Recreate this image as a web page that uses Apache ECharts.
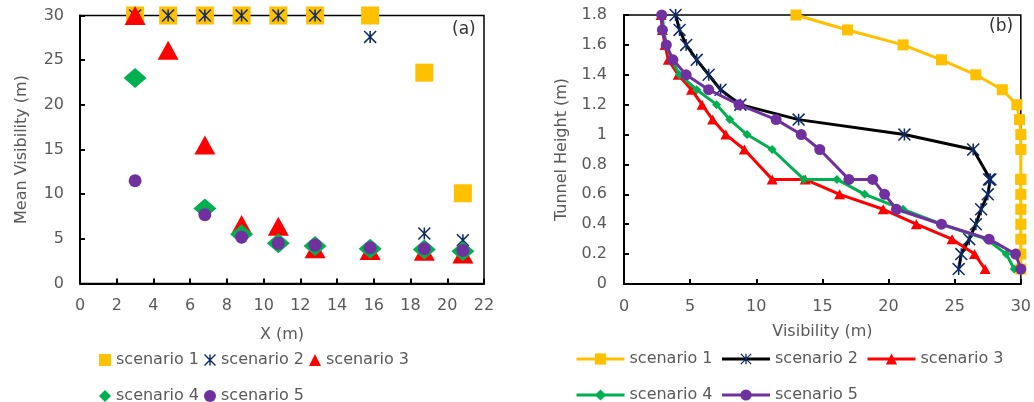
<!DOCTYPE html>
<html>
<head>
<meta charset="utf-8">
<script src="https://cdn.jsdelivr.net/npm/echarts@6/dist/echarts.min.js"></script>
<style>
html,body{margin:0;padding:0;background:#fff;}
#c{width:1034px;height:402px;}
</style>
</head>
<body>
<div id="c"></div>
<script>
// ---------- Panel (a): mean visibility vs X ----------
const xPos = [3, 4.8, 6.8, 8.8, 10.8, 12.8, 15.8, 18.75, 20.85];
const aS1 = [30, 30, 30, 30, 30, 30, 30, 23.6, 10.1];
const aS2 = [30, 30, 30, 30, 30, 30, 27.6, 5.6, 4.85];
const aS3 = [30, 26.1, 15.5, 6.6, 6.4, 3.9, 3.7, 3.6, 3.3];
const aS4 = [23, null, 8.4, 5.5, 4.5, 4.2, 3.9, 3.8, 3.6];
const aS5 = [11.5, null, 7.7, 5.2, 4.5, 4.3, 4.0, 3.9, 3.7];

// ---------- Panel (b): tunnel height vs visibility ----------
const heights = [1.8, 1.7, 1.6, 1.5, 1.4, 1.3, 1.2, 1.1, 1.0, 0.9, 0.7, 0.7, 0.6, 0.5, 0.4, 0.3, 0.2, 0.1];
const bS1 = [13.0, 16.9, 21.1, 24.0, 26.6, 28.6, 29.7, 29.9, 30, 30, 30, 30, 30, 30, 30, 30, 30, 30];
const bS2 = [3.9, 4.2, 4.7, 5.5, 6.4, 7.3, 8.8, 13.2, 21.2, 26.4, 27.7, 27.6, 27.5, 27.0, 26.6, 26.1, 25.5, 25.3];
const bS3 = [2.8, 2.9, 3.1, 3.35, 4.1, 5.1, 5.9, 6.7, 7.7, 9.1, 11.2, 13.7, 16.3, 19.6, 22.1, 24.8, 26.5, 27.3];
const bS4 = [2.9, 3.0, 3.2, 3.6, 4.2, 5.5, 7.0, 8.0, 9.3, 11.2, 13.6, 16.1, 18.2, 21.1, 24.0, 27.4, 28.9, 29.5];
const bS5 = [2.85, 2.9, 3.2, 3.7, 4.7, 6.4, 8.7, 11.5, 13.4, 14.8, 17.0, 18.8, 19.7, 20.6, 24.0, 27.6, 29.6, 30.0];

const seriesNames = ['scenario 1', 'scenario 2', 'scenario 3', 'scenario 4', 'scenario 5'];

const COL = ['#FFC000', '#0D2A66', '#FF0000', '#00B050', '#7030A0'];
const LINECOL = ['#FFC000', '#000000', '#FF0000', '#00B050', '#7030A0'];
const STAR = 'path://M-1.3,-10L1.3,-10L1.3,10L-1.3,10Z' +
  'M-9.1,-10.9L10.9,9.1L9.1,10.9L-10.9,-9.1Z' +
  'M10.9,-9.1L-9.1,10.9L-10.9,9.1L9.1,-10.9Z';

const FONT = 'DejaVu Sans';
const GREY = '#595959';

function pairsA(ys) { return xPos.map((x, i) => ys[i] == null ? null : [x, ys[i]]).filter(d => d); }
function pairsB(xs) { return xs.map((v, i) => [v, heights[i]]); }

const aSymbols = ['rect', STAR, 'triangle', 'diamond', 'circle'];
const aSizes = [18, 13, [21, 19], [23, 20], 13];
const bSymbols = ['rect', STAR, 'triangle', 'diamond', 'circle'];
const bSizes = [11, 13, [11, 10], [9, 9], 11];
const aData = [aS1, aS2, aS3, aS4, aS5];
const bData = [bS1, bS2, bS3, bS4, bS5];

function axisCommon() {
  return {
    axisLine: { show: true, onZero: false, lineStyle: { color: '#000', width: 2 } },
    axisTick: { show: true, inside: true, length: 5, lineStyle: { color: '#000', width: 2 } },
    splitLine: { show: false },
    nameTextStyle: { color: GREY, fontFamily: FONT, fontSize: 16 },
  };
}

const series = [];
for (let i = 0; i < 5; i++) {
  series.push({
    name: 'a' + (i + 1), type: 'scatter', xAxisIndex: 0, yAxisIndex: 0,
    symbol: aSymbols[i], symbolSize: aSizes[i],
    itemStyle: { color: COL[i], opacity: 1 },
    data: pairsA(aData[i]), z: 2 + i, animation: false
  });
}
for (let i = 0; i < 5; i++) {
  series.push({
    name: 'b' + (i + 1), type: 'line', xAxisIndex: 1, yAxisIndex: 1,
    symbol: bSymbols[i], symbolSize: bSizes[i], showSymbol: true,
    itemStyle: { color: COL[i], opacity: 1 },
    lineStyle: { color: LINECOL[i], width: 3 },
    data: pairsB(bData[i]), z: 2 + i, animation: false
  });
}

const legText = { color: GREY, fontFamily: FONT, fontSize: 16 };
const fmt = n => seriesNames[parseInt(n.slice(1)) - 1];
const tickLbl = m => ({ color: GREY, fontFamily: FONT, fontSize: 16, margin: m });

const option = {
  backgroundColor: '#fff',
  animation: false,
  grid: [
    { left: 80, top: 15.5, width: 404, height: 268, show: true, borderColor: '#000', borderWidth: 1.5, containLabel: false },
    { left: 624, top: 15, width: 397, height: 269, show: true, borderColor: '#000', borderWidth: 1.5, containLabel: false }
  ],
  xAxis: [
    Object.assign(axisCommon(), {
      gridIndex: 0, type: 'value', min: 0, max: 22, interval: 2,
      name: 'X (m)', nameLocation: 'middle', nameGap: 43,
      axisLabel: tickLbl(14)
    }),
    Object.assign(axisCommon(), {
      gridIndex: 1, type: 'value', min: 0, max: 30, interval: 5,
      name: 'Visibility (m)', nameLocation: 'middle', nameGap: 40,
      axisLabel: tickLbl(15)
    })
  ],
  yAxis: [
    Object.assign(axisCommon(), {
      gridIndex: 0, type: 'value', min: 0, max: 30, interval: 5,
      name: 'Mean Visibility (m)', nameLocation: 'middle', nameGap: 50,
      axisLabel: tickLbl(16)
    }),
    Object.assign(axisCommon(), {
      gridIndex: 1, type: 'value', min: 0, max: 1.8, interval: 0.2,
      name: 'Tunnel Height (m)', nameLocation: 'middle', nameGap: 54,
      axisLabel: tickLbl(17)
    })
  ],
  legend: [
    { left: 94, top: 347, itemWidth: 12, itemHeight: 12, itemGap: 5, data: ['a1', 'a2', 'a3'], formatter: fmt, textStyle: legText, selectedMode: false },
    { left: 94, top: 383, itemWidth: 12, itemHeight: 12, itemGap: 5, data: ['a4', 'a5'], formatter: fmt, textStyle: legText, selectedMode: false },
    { left: 570, top: 346, itemWidth: 48, itemHeight: 14, itemGap: 8, lineStyle: { width: 3 }, data: ['b1', 'b2', 'b3'], formatter: fmt, textStyle: legText, selectedMode: false },
    { left: 570, top: 382, itemWidth: 48, itemHeight: 14, itemGap: 8, lineStyle: { width: 3 }, data: ['b4', 'b5'], formatter: fmt, textStyle: legText, selectedMode: false }
  ],
  graphic: [
    { type: 'text', left: 452, top: 21, style: { text: '(a)', fill: '#333', font: '17px "DejaVu Sans"' } },
    { type: 'text', left: 989, top: 18, style: { text: '(b)', fill: '#333', font: '17px "DejaVu Sans"' } }
  ],
  series: series
};

const chart = echarts.init(document.getElementById('c'), null, { renderer: 'canvas' });
chart.setOption(option);
</script>
</body>
</html>
